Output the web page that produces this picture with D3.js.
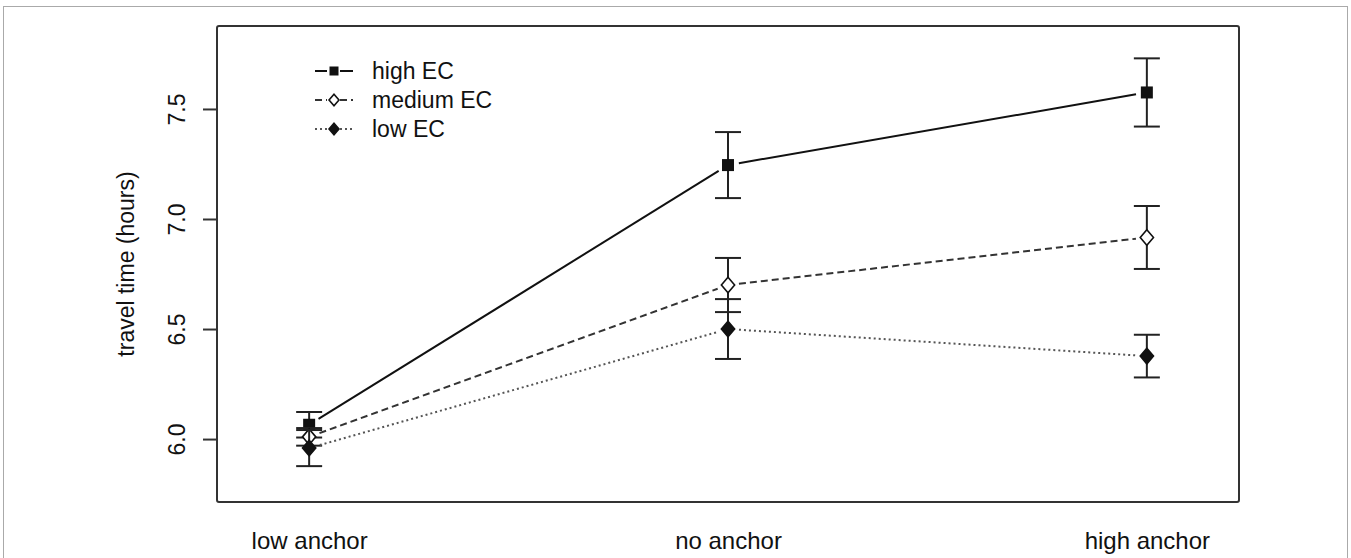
<!DOCTYPE html>
<html>
<head>
<meta charset="utf-8">
<script src="https://cdn.jsdelivr.net/npm/d3@7"></script>
<style>
  body { margin: 0; background: #fff; }
  svg text { font-family: "Liberation Sans", Arial, sans-serif; fill: #111; }
</style>
</head>
<body>
<div class="canvas"></div>
<script>
// data
const categories = ['low anchor', 'no anchor', 'high anchor'];
const seriesNames = ['high EC', 'medium EC', 'low EC'];
const highMean = [6.065, 7.245, 7.575];
const highSE = [0.058, 0.150, 0.155];
const medMean = [6.010, 6.700, 6.916];
const medSE = [0.040, 0.123, 0.143];
const lowMean = [5.959, 6.500, 6.377];
const lowSE = [0.082, 0.136, 0.097];
const yTicks = [6.0, 6.5, 7.0, 7.5];

const dims = {width: 1351, height: 558};
const box = {left: 217, right: 1239, top: 26, bottom: 502};

const series = [
    {name: seriesNames[0], mean: highMean, se: highSE, dash: null, shape: 'square', fill: '#111', stroke: '#111'},
    {name: seriesNames[1], mean: medMean, se: medSE, dash: '7,4', shape: 'diamond', fill: '#fff', stroke: '#333'},
    {name: seriesNames[2], mean: lowMean, se: lowSE, dash: '2,3', shape: 'diamond', fill: '#111', stroke: '#555'}
];

const svg = d3.select('.canvas')
    .append('svg')
    .attr('width', dims.width)
    .attr('height', dims.height);

// outer frame of the figure
svg.append('rect')
    .attr('x', 3.5).attr('y', 6.5)
    .attr('width', 1344).attr('height', 600)
    .attr('fill', 'none')
    .attr('stroke', '#aaa');

const x = d3.scalePoint()
    .domain(categories)
    .range([box.left, box.right])
    .padding(0.22);

const y = d3.scaleLinear()
    .domain([5.714, 7.877])
    .range([box.bottom, box.top]);

// y axis with rotated labels (R style)
const yAxis = svg.append('g')
    .attr('transform', `translate(${box.left},0)`)
    .call(d3.axisLeft(y).tickValues(yTicks).tickSize(14).tickFormat(d3.format('.1f')));
yAxis.select('.domain').remove();
yAxis.selectAll('line').attr('stroke', '#333').attr('stroke-width', 2);
yAxis.selectAll('text')
    .attr('transform', 'rotate(-90)')
    .attr('x', 0).attr('y', -32).attr('dy', 0)
    .attr('text-anchor', 'middle')
    .style('font-size', '23px');

// x axis: labels only
const xAxis = svg.append('g')
    .attr('transform', `translate(0,${box.bottom})`)
    .call(d3.axisBottom(x).tickSize(0));
xAxis.select('.domain').remove();
xAxis.selectAll('text')
    .attr('y', 47).attr('dy', 0)
    .style('font-size', '24px');

svg.append('text')
    .attr('transform', `translate(134,${(box.top + box.bottom) / 2}) rotate(-90)`)
    .attr('text-anchor', 'middle')
    .style('font-size', '23px')
    .text('travel time (hours)');

// plot box
svg.append('rect')
    .attr('x', box.left).attr('y', box.top)
    .attr('width', box.right - box.left).attr('height', box.bottom - box.top)
    .attr('rx', 2)
    .attr('fill', 'none')
    .attr('stroke', '#333')
    .attr('stroke-width', 2);

const marker = (g, s, cx, cy, r) => {
    if (s.shape === 'square') {
        g.append('rect')
            .attr('x', cx - r).attr('y', cy - r)
            .attr('width', 2 * r).attr('height', 2 * r)
            .attr('fill', s.fill);
    } else {
        const d = r * 1.3;
        g.append('path')
            .attr('d', `M${cx},${cy - d}L${cx + d * 0.85},${cy}L${cx},${cy + d}L${cx - d * 0.85},${cy}Z`)
            .attr('fill', s.fill)
            .attr('stroke', '#111')
            .attr('stroke-width', 1.6);
    }
};

const gap = 11;
const plot = svg.append('g');

series.forEach(s => {
    const pts = categories.map((c, i) => ({x: x(c), y: y(s.mean[i]), lo: y(s.mean[i] - s.se[i]), hi: y(s.mean[i] + s.se[i])}));

    // error bars
    pts.forEach(p => {
        plot.append('line').attr('x1', p.x).attr('x2', p.x).attr('y1', p.hi).attr('y2', p.lo)
            .attr('stroke', '#222').attr('stroke-width', 2);
        [p.hi, p.lo].forEach(v => plot.append('line')
            .attr('x1', p.x - 13).attr('x2', p.x + 13).attr('y1', v).attr('y2', v)
            .attr('stroke', '#222').attr('stroke-width', 2));
    });

    // connecting segments, stopped short of the points (type = "b")
    d3.pairs(pts).forEach(([a, b]) => {
        const dx = b.x - a.x, dy = b.y - a.y, len = Math.hypot(dx, dy);
        const ux = dx / len, uy = dy / len;
        plot.append('line')
            .attr('x1', a.x + ux * gap).attr('y1', a.y + uy * gap)
            .attr('x2', b.x - ux * gap).attr('y2', b.y - uy * gap)
            .attr('stroke', s.stroke)
            .attr('stroke-width', 2)
            .attr('stroke-dasharray', s.dash);
    });

    pts.forEach(p => marker(plot, s, p.x, p.y, 6));
});

// legend
const legend = svg.append('g');
series.forEach((s, i) => {
    const ly = 71 + i * 29;
    [[315, 327], [340, 353]].forEach(([a, b]) => legend.append('line')
        .attr('x1', a).attr('x2', b).attr('y1', ly).attr('y2', ly)
        .attr('stroke', s.stroke).attr('stroke-width', 2)
        .attr('stroke-dasharray', s.dash));
    marker(legend, s, 334, ly, 4.5);
    legend.append('text')
        .attr('x', 372).attr('y', ly)
        .attr('dy', '0.35em')
        .style('font-size', '23px')
        .text(s.name);
});
</script>
</body>
</html>
